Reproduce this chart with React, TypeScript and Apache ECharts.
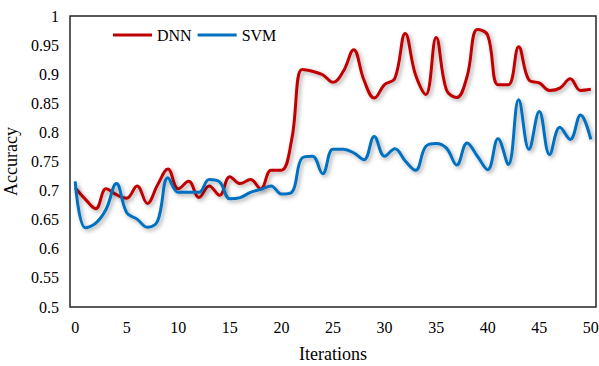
import React, { useEffect, useRef } from "react";
import * as echarts from "echarts";

const iterations = Array.from({ length: 51 }, (_, i) => String(i));

const dnn = [
  0.705, 0.685, 0.669, 0.703, 0.693, 0.687, 0.708, 0.678, 0.71, 0.737,
  0.703, 0.716, 0.688, 0.708, 0.692, 0.724, 0.712, 0.719, 0.703, 0.735,
  0.735, 0.788, 0.908, 0.905, 0.899, 0.886, 0.905, 0.942, 0.89, 0.859,
  0.882, 0.893, 0.97, 0.899, 0.865, 0.963, 0.873, 0.86, 0.896, 0.977,
  0.967, 0.882, 0.882, 0.947, 0.89, 0.885, 0.872, 0.876, 0.892, 0.872,
  0.874,
];

const svm = [
  0.716, 0.636, 0.644, 0.668, 0.712, 0.662, 0.651, 0.637, 0.648, 0.722,
  0.697, 0.697, 0.697, 0.719, 0.715, 0.686, 0.688, 0.697, 0.702, 0.708,
  0.694, 0.697, 0.756, 0.759, 0.729, 0.771, 0.771, 0.765, 0.753, 0.793,
  0.759, 0.772, 0.751, 0.735, 0.776, 0.781, 0.773, 0.744, 0.782, 0.759,
  0.736, 0.789, 0.745, 0.856, 0.771, 0.836, 0.762, 0.809, 0.788, 0.83,
  0.788,
];

const yTicks = { min: 0.5, max: 1, interval: 0.05 };

const FONT = '"Liberation Serif", "Times New Roman", serif';

export default function App() {
  const ref = useRef<HTMLDivElement>(null);
  useEffect(() => {
    if (!ref.current) return;
    const chart = echarts.init(ref.current, null, { renderer: "svg" });
    const shadow = {
      shadowColor: "rgba(0,0,0,0.35)",
      shadowBlur: 4,
      shadowOffsetX: 2,
      shadowOffsetY: 2,
    };
    chart.setOption({
      animation: false,
      backgroundColor: "#ffffff",
      textStyle: { fontFamily: FONT, color: "#000" },
      grid: {
        left: 70,
        right: 3,
        top: 16,
        bottom: 59,
        containLabel: false,
        outerBoundsMode: "none",
        show: true,
        borderColor: "#262626",
        borderWidth: 1.5,
        backgroundColor: "transparent",
      },
      legend: {
        left: 113,
        top: 27,
        padding: 0,
        itemWidth: 39,
        itemHeight: 3,
        itemGap: 6,
        icon: "rect",
        textStyle: { fontFamily: FONT, fontSize: 16, color: "#000" },
        data: ["DNN", "SVM"],
      },
      xAxis: {
        type: "category",
        data: iterations,
        boundaryGap: true,
        name: "Iterations",
        nameLocation: "middle",
        nameGap: 38,
        nameTextStyle: { fontFamily: FONT, fontSize: 18, color: "#000" },
        axisLine: { show: false },
        axisTick: { show: false },
        splitLine: { show: false },
        axisLabel: {
          interval: 4,
          margin: 12,
          fontFamily: FONT,
          fontSize: 16,
          color: "#000",
        },
      },
      yAxis: {
        type: "value",
        min: yTicks.min,
        max: yTicks.max,
        interval: yTicks.interval,
        name: "Accuracy",
        nameLocation: "middle",
        nameGap: 44,
        nameTextStyle: { fontFamily: FONT, fontSize: 18, color: "#000" },
        axisLine: { show: false },
        axisTick: { show: false },
        splitLine: { show: false },
        axisLabel: {
          margin: 11,
          fontFamily: FONT,
          fontSize: 16,
          color: "#000",
          formatter: (v: number) => String(Math.round(v * 100) / 100),
        },
      },
      series: [
        {
          name: "DNN",
          type: "line",
          data: dnn,
          smooth: 0.4,
          showSymbol: false,
          color: "#C00000",
          lineStyle: { width: 3, color: "#C00000", ...shadow },
        },
        {
          name: "SVM",
          type: "line",
          data: svm,
          smooth: 0.4,
          showSymbol: false,
          color: "#0070C0",
          lineStyle: { width: 3, color: "#0070C0", ...shadow },
        },
      ],
    });
    return () => chart.dispose();
  }, []);
  return (
    <div
      ref={ref}
      style={{ position: "fixed", left: 0, top: 0, width: 599, height: 366 }}
    />
  );
}
